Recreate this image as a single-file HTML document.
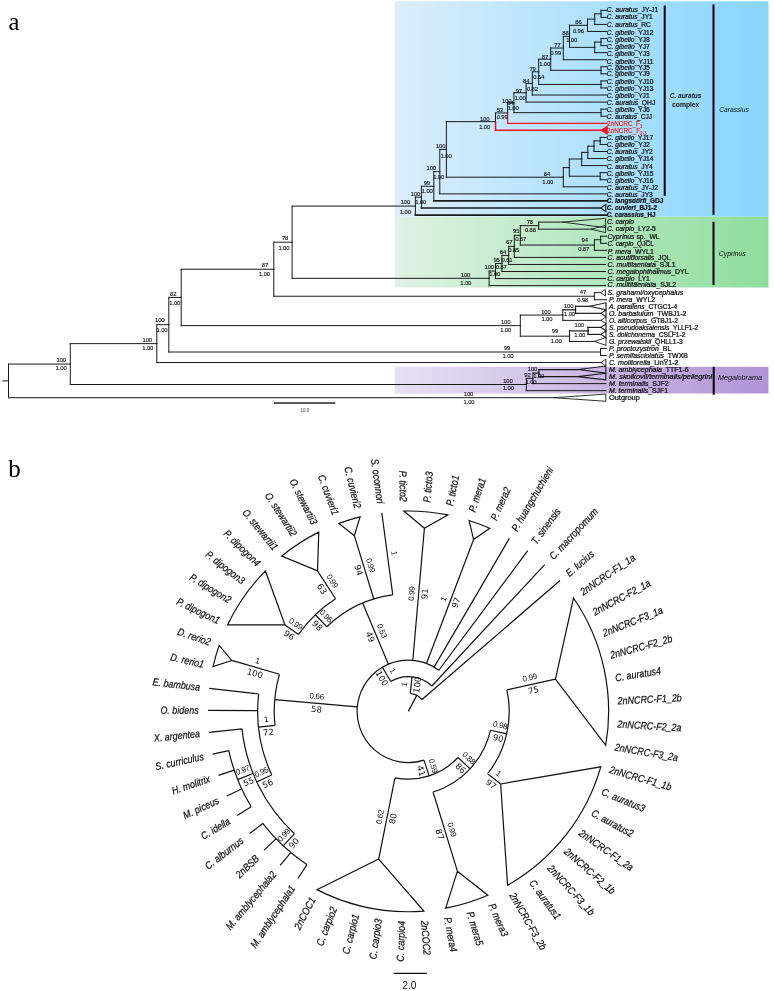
<!DOCTYPE html>
<html lang="en">
<head>
<meta charset="utf-8">
<title>Phylogenetic trees</title>
<style>
html,body{margin:0;padding:0;background:#fff;}
body{width:774px;height:991px;overflow:hidden;}
svg{display:block;}
text{white-space:pre;}
</style>
</head>
<body>
<svg width="774" height="991" viewBox="0 0 774 991">
<defs>
<linearGradient id="gB" x1="0" y1="0" x2="1" y2="0"><stop offset="0" stop-color="#dceefc"/><stop offset="1" stop-color="#87d5fd"/></linearGradient>
<linearGradient id="gG" x1="0" y1="0" x2="1" y2="0"><stop offset="0" stop-color="#dff3e4"/><stop offset="1" stop-color="#8fdd9e"/></linearGradient>
<linearGradient id="gP" x1="0" y1="0" x2="1" y2="0"><stop offset="0" stop-color="#e9e0f4"/><stop offset="1" stop-color="#b094d6"/></linearGradient>
</defs>
<rect x="0" y="0" width="774" height="991" fill="#fff"/>
<text x="8.5" y="30.1" font-family="'Liberation Serif', 'Times New Roman', serif" font-size="24.5" fill="#000">a</text>
<text x="8.2" y="476.8" font-family="'Liberation Serif', 'Times New Roman', serif" font-size="25" fill="#000">b</text>
<g id="panel-a">
<rect x="394.7" y="1.3" width="373.8" height="215.4" fill="url(#gB)"/>
<rect x="394.7" y="216.7" width="373.8" height="70.8" fill="url(#gG)"/>
<rect x="394.7" y="366.8" width="373.8" height="26.7" fill="url(#gP)"/>
<g stroke-linecap="square" fill="none">
<line x1="601" y1="10.3" x2="606.6" y2="10.3" stroke="#1a1a1a" stroke-width="1"/>
<line x1="601" y1="17.36" x2="606.6" y2="17.36" stroke="#1a1a1a" stroke-width="1"/>
<line x1="601" y1="13.83" x2="601" y2="10.3" stroke="#1a1a1a" stroke-width="1"/>
<line x1="601" y1="13.83" x2="601" y2="17.36" stroke="#1a1a1a" stroke-width="1"/>
<line x1="594.7" y1="13.83" x2="601" y2="13.83" stroke="#1a1a1a" stroke-width="1"/>
<line x1="594.7" y1="24.42" x2="606.6" y2="24.42" stroke="#1a1a1a" stroke-width="1"/>
<line x1="594.7" y1="19.12" x2="594.7" y2="13.83" stroke="#1a1a1a" stroke-width="1"/>
<line x1="594.7" y1="19.12" x2="594.7" y2="24.42" stroke="#1a1a1a" stroke-width="1"/>
<line x1="587.5" y1="19.12" x2="594.7" y2="19.12" stroke="#1a1a1a" stroke-width="1"/>
<line x1="587.5" y1="31.48" x2="606.6" y2="31.48" stroke="#1a1a1a" stroke-width="1"/>
<line x1="587.5" y1="25.3" x2="587.5" y2="19.12" stroke="#1a1a1a" stroke-width="1"/>
<line x1="587.5" y1="25.3" x2="587.5" y2="31.48" stroke="#1a1a1a" stroke-width="1"/>
<line x1="569.5" y1="25.3" x2="587.5" y2="25.3" stroke="#1a1a1a" stroke-width="1"/>
<line x1="601" y1="38.54" x2="606.6" y2="38.54" stroke="#1a1a1a" stroke-width="1"/>
<line x1="601" y1="45.6" x2="606.6" y2="45.6" stroke="#1a1a1a" stroke-width="1"/>
<line x1="601" y1="42.07" x2="601" y2="38.54" stroke="#1a1a1a" stroke-width="1"/>
<line x1="601" y1="42.07" x2="601" y2="45.6" stroke="#1a1a1a" stroke-width="1"/>
<line x1="594.7" y1="42.07" x2="601" y2="42.07" stroke="#1a1a1a" stroke-width="1"/>
<line x1="594.7" y1="52.66" x2="606.6" y2="52.66" stroke="#1a1a1a" stroke-width="1"/>
<line x1="594.7" y1="47.36" x2="594.7" y2="42.07" stroke="#1a1a1a" stroke-width="1"/>
<line x1="594.7" y1="47.36" x2="594.7" y2="52.66" stroke="#1a1a1a" stroke-width="1"/>
<line x1="569.5" y1="47.36" x2="594.7" y2="47.36" stroke="#1a1a1a" stroke-width="1"/>
<line x1="569.5" y1="36.33" x2="569.5" y2="25.3" stroke="#1a1a1a" stroke-width="1"/>
<line x1="569.5" y1="36.33" x2="569.5" y2="47.36" stroke="#1a1a1a" stroke-width="1"/>
<line x1="563.3" y1="36.33" x2="569.5" y2="36.33" stroke="#1a1a1a" stroke-width="1"/>
<line x1="563.3" y1="59.72" x2="606.6" y2="59.72" stroke="#1a1a1a" stroke-width="1"/>
<line x1="563.3" y1="48.03" x2="563.3" y2="36.33" stroke="#1a1a1a" stroke-width="1"/>
<line x1="563.3" y1="48.03" x2="563.3" y2="59.72" stroke="#1a1a1a" stroke-width="1"/>
<line x1="550.7" y1="48.03" x2="563.3" y2="48.03" stroke="#1a1a1a" stroke-width="1"/>
<line x1="601" y1="66.78" x2="606.6" y2="66.78" stroke="#1a1a1a" stroke-width="1"/>
<line x1="601" y1="73.84" x2="606.6" y2="73.84" stroke="#1a1a1a" stroke-width="1"/>
<line x1="601" y1="70.31" x2="601" y2="66.78" stroke="#1a1a1a" stroke-width="1"/>
<line x1="601" y1="70.31" x2="601" y2="73.84" stroke="#1a1a1a" stroke-width="1"/>
<line x1="550.7" y1="70.31" x2="601" y2="70.31" stroke="#1a1a1a" stroke-width="1"/>
<line x1="550.7" y1="59.17" x2="550.7" y2="48.03" stroke="#1a1a1a" stroke-width="1"/>
<line x1="550.7" y1="59.17" x2="550.7" y2="70.31" stroke="#1a1a1a" stroke-width="1"/>
<line x1="538.7" y1="59.17" x2="550.7" y2="59.17" stroke="#1a1a1a" stroke-width="1"/>
<line x1="601" y1="80.9" x2="606.6" y2="80.9" stroke="#1a1a1a" stroke-width="1"/>
<line x1="601" y1="87.96" x2="606.6" y2="87.96" stroke="#1a1a1a" stroke-width="1"/>
<line x1="601" y1="84.43" x2="601" y2="80.9" stroke="#1a1a1a" stroke-width="1"/>
<line x1="601" y1="84.43" x2="601" y2="87.96" stroke="#1a1a1a" stroke-width="1"/>
<line x1="538.7" y1="84.43" x2="601" y2="84.43" stroke="#1a1a1a" stroke-width="1"/>
<line x1="538.7" y1="71.8" x2="538.7" y2="59.17" stroke="#1a1a1a" stroke-width="1"/>
<line x1="538.7" y1="71.8" x2="538.7" y2="84.43" stroke="#1a1a1a" stroke-width="1"/>
<line x1="532.3" y1="71.8" x2="538.7" y2="71.8" stroke="#1a1a1a" stroke-width="1"/>
<line x1="532.3" y1="95.02" x2="606.6" y2="95.02" stroke="#1a1a1a" stroke-width="1"/>
<line x1="532.3" y1="83.41" x2="532.3" y2="71.8" stroke="#1a1a1a" stroke-width="1"/>
<line x1="532.3" y1="83.41" x2="532.3" y2="95.02" stroke="#1a1a1a" stroke-width="1"/>
<line x1="526.1" y1="83.41" x2="532.3" y2="83.41" stroke="#1a1a1a" stroke-width="1"/>
<line x1="526.1" y1="102.08" x2="606.6" y2="102.08" stroke="#1a1a1a" stroke-width="1"/>
<line x1="526.1" y1="92.74" x2="526.1" y2="83.41" stroke="#1a1a1a" stroke-width="1"/>
<line x1="526.1" y1="92.74" x2="526.1" y2="102.08" stroke="#1a1a1a" stroke-width="1"/>
<line x1="513.9" y1="92.74" x2="526.1" y2="92.74" stroke="#1a1a1a" stroke-width="1"/>
<line x1="601" y1="109.14" x2="606.6" y2="109.14" stroke="#1a1a1a" stroke-width="1"/>
<line x1="601" y1="116.2" x2="606.6" y2="116.2" stroke="#1a1a1a" stroke-width="1"/>
<line x1="601" y1="112.67" x2="601" y2="109.14" stroke="#1a1a1a" stroke-width="1"/>
<line x1="601" y1="112.67" x2="601" y2="116.2" stroke="#1a1a1a" stroke-width="1"/>
<line x1="513.9" y1="112.67" x2="601" y2="112.67" stroke="#1a1a1a" stroke-width="1"/>
<line x1="513.9" y1="102.71" x2="513.9" y2="92.74" stroke="#1a1a1a" stroke-width="1"/>
<line x1="513.9" y1="102.71" x2="513.9" y2="112.67" stroke="#1a1a1a" stroke-width="1"/>
<line x1="507.6" y1="102.71" x2="513.9" y2="102.71" stroke="#1a1a1a" stroke-width="1"/>
<line x1="507.6" y1="123.26" x2="606.6" y2="123.26" stroke="#f5151c" stroke-width="1.25"/>
<line x1="507.6" y1="112.98" x2="507.6" y2="102.71" stroke="#1a1a1a" stroke-width="1"/>
<line x1="507.6" y1="112.98" x2="507.6" y2="123.26" stroke="#f5151c" stroke-width="1.25"/>
<line x1="495.5" y1="112.98" x2="507.6" y2="112.98" stroke="#1a1a1a" stroke-width="1"/>
<line x1="495.5" y1="130.32" x2="601" y2="130.32" stroke="#f5151c" stroke-width="1.5"/>
<line x1="495.5" y1="121.65" x2="495.5" y2="112.98" stroke="#1a1a1a" stroke-width="1"/>
<line x1="495.5" y1="121.65" x2="495.5" y2="130.32" stroke="#f5151c" stroke-width="1.5"/>
<line x1="446.4" y1="121.65" x2="495.5" y2="121.65" stroke="#1a1a1a" stroke-width="1"/>
<line x1="600.2" y1="137.38" x2="606.6" y2="137.38" stroke="#1a1a1a" stroke-width="1"/>
<line x1="600.2" y1="144.44" x2="606.6" y2="144.44" stroke="#1a1a1a" stroke-width="1"/>
<line x1="600.2" y1="140.91" x2="600.2" y2="137.38" stroke="#1a1a1a" stroke-width="1"/>
<line x1="600.2" y1="140.91" x2="600.2" y2="144.44" stroke="#1a1a1a" stroke-width="1"/>
<line x1="594" y1="140.91" x2="600.2" y2="140.91" stroke="#1a1a1a" stroke-width="1"/>
<line x1="594" y1="151.5" x2="606.6" y2="151.5" stroke="#1a1a1a" stroke-width="1"/>
<line x1="594" y1="146.2" x2="594" y2="140.91" stroke="#1a1a1a" stroke-width="1"/>
<line x1="594" y1="146.2" x2="594" y2="151.5" stroke="#1a1a1a" stroke-width="1"/>
<line x1="587.8" y1="146.2" x2="594" y2="146.2" stroke="#1a1a1a" stroke-width="1"/>
<line x1="587.8" y1="158.56" x2="606.6" y2="158.56" stroke="#1a1a1a" stroke-width="1"/>
<line x1="587.8" y1="152.38" x2="587.8" y2="146.2" stroke="#1a1a1a" stroke-width="1"/>
<line x1="587.8" y1="152.38" x2="587.8" y2="158.56" stroke="#1a1a1a" stroke-width="1"/>
<line x1="581.7" y1="152.38" x2="587.8" y2="152.38" stroke="#1a1a1a" stroke-width="1"/>
<line x1="581.7" y1="165.62" x2="606.6" y2="165.62" stroke="#1a1a1a" stroke-width="1"/>
<line x1="581.7" y1="159" x2="581.7" y2="152.38" stroke="#1a1a1a" stroke-width="1"/>
<line x1="581.7" y1="159" x2="581.7" y2="165.62" stroke="#1a1a1a" stroke-width="1"/>
<line x1="569.3" y1="159" x2="581.7" y2="159" stroke="#1a1a1a" stroke-width="1"/>
<line x1="600.2" y1="172.68" x2="606.6" y2="172.68" stroke="#1a1a1a" stroke-width="1"/>
<line x1="600.2" y1="179.74" x2="606.6" y2="179.74" stroke="#1a1a1a" stroke-width="1"/>
<line x1="600.2" y1="176.21" x2="600.2" y2="172.68" stroke="#1a1a1a" stroke-width="1"/>
<line x1="600.2" y1="176.21" x2="600.2" y2="179.74" stroke="#1a1a1a" stroke-width="1"/>
<line x1="569.3" y1="176.21" x2="600.2" y2="176.21" stroke="#1a1a1a" stroke-width="1"/>
<line x1="569.3" y1="167.61" x2="569.3" y2="159" stroke="#1a1a1a" stroke-width="1"/>
<line x1="569.3" y1="167.61" x2="569.3" y2="176.21" stroke="#1a1a1a" stroke-width="1"/>
<line x1="563.3" y1="167.61" x2="569.3" y2="167.61" stroke="#1a1a1a" stroke-width="1"/>
<line x1="563.3" y1="186.8" x2="606.6" y2="186.8" stroke="#1a1a1a" stroke-width="1"/>
<line x1="563.3" y1="177.2" x2="563.3" y2="167.61" stroke="#1a1a1a" stroke-width="1"/>
<line x1="563.3" y1="177.2" x2="563.3" y2="186.8" stroke="#1a1a1a" stroke-width="1"/>
<line x1="446.4" y1="177.2" x2="563.3" y2="177.2" stroke="#1a1a1a" stroke-width="1"/>
<line x1="446.4" y1="149.43" x2="446.4" y2="121.65" stroke="#1a1a1a" stroke-width="1"/>
<line x1="446.4" y1="149.43" x2="446.4" y2="177.2" stroke="#1a1a1a" stroke-width="1"/>
<line x1="439.8" y1="149.43" x2="446.4" y2="149.43" stroke="#1a1a1a" stroke-width="1"/>
<line x1="439.8" y1="193.86" x2="606.6" y2="193.86" stroke="#1a1a1a" stroke-width="1"/>
<line x1="439.8" y1="171.64" x2="439.8" y2="149.43" stroke="#1a1a1a" stroke-width="1"/>
<line x1="439.8" y1="171.64" x2="439.8" y2="193.86" stroke="#1a1a1a" stroke-width="1"/>
<line x1="433.8" y1="171.64" x2="439.8" y2="171.64" stroke="#1a1a1a" stroke-width="1"/>
<line x1="433.8" y1="200.92" x2="606.6" y2="200.92" stroke="#1a1a1a" stroke-width="1.6"/>
<line x1="433.8" y1="186.28" x2="433.8" y2="171.64" stroke="#1a1a1a" stroke-width="1"/>
<line x1="433.8" y1="186.28" x2="433.8" y2="200.92" stroke="#1a1a1a" stroke-width="1"/>
<line x1="421.4" y1="186.28" x2="433.8" y2="186.28" stroke="#1a1a1a" stroke-width="1"/>
<line x1="421.4" y1="207.98" x2="600.8" y2="207.98" stroke="#1a1a1a" stroke-width="1.6"/>
<line x1="421.4" y1="197.13" x2="421.4" y2="186.28" stroke="#1a1a1a" stroke-width="1"/>
<line x1="421.4" y1="197.13" x2="421.4" y2="207.98" stroke="#1a1a1a" stroke-width="1"/>
<line x1="415.4" y1="197.13" x2="421.4" y2="197.13" stroke="#1a1a1a" stroke-width="1"/>
<line x1="415.4" y1="215.04" x2="606.6" y2="215.04" stroke="#1a1a1a" stroke-width="1.7"/>
<line x1="415.4" y1="206.09" x2="415.4" y2="197.13" stroke="#1a1a1a" stroke-width="1"/>
<line x1="415.4" y1="206.09" x2="415.4" y2="215.04" stroke="#1a1a1a" stroke-width="1"/>
<line x1="292.1" y1="206.09" x2="415.4" y2="206.09" stroke="#1a1a1a" stroke-width="1"/>
<line x1="538.7" y1="222.1" x2="562.4" y2="222.1" stroke="#1a1a1a" stroke-width="1"/>
<line x1="538.7" y1="229.16" x2="590.9" y2="229.16" stroke="#1a1a1a" stroke-width="1"/>
<line x1="538.7" y1="225.63" x2="538.7" y2="222.1" stroke="#1a1a1a" stroke-width="1"/>
<line x1="538.7" y1="225.63" x2="538.7" y2="229.16" stroke="#1a1a1a" stroke-width="1"/>
<line x1="520.3" y1="225.63" x2="538.7" y2="225.63" stroke="#1a1a1a" stroke-width="1"/>
<line x1="600.7" y1="236.22" x2="606.6" y2="236.22" stroke="#1a1a1a" stroke-width="1"/>
<line x1="600.7" y1="243.28" x2="606.6" y2="243.28" stroke="#1a1a1a" stroke-width="1"/>
<line x1="600.7" y1="239.75" x2="600.7" y2="236.22" stroke="#1a1a1a" stroke-width="1"/>
<line x1="600.7" y1="239.75" x2="600.7" y2="243.28" stroke="#1a1a1a" stroke-width="1"/>
<line x1="594.4" y1="239.75" x2="600.7" y2="239.75" stroke="#1a1a1a" stroke-width="1"/>
<line x1="594.4" y1="250.34" x2="606.6" y2="250.34" stroke="#1a1a1a" stroke-width="1"/>
<line x1="594.4" y1="245.05" x2="594.4" y2="239.75" stroke="#1a1a1a" stroke-width="1"/>
<line x1="594.4" y1="245.05" x2="594.4" y2="250.34" stroke="#1a1a1a" stroke-width="1"/>
<line x1="520.3" y1="245.05" x2="594.4" y2="245.05" stroke="#1a1a1a" stroke-width="1"/>
<line x1="520.3" y1="235.34" x2="520.3" y2="225.63" stroke="#1a1a1a" stroke-width="1"/>
<line x1="520.3" y1="235.34" x2="520.3" y2="245.05" stroke="#1a1a1a" stroke-width="1"/>
<line x1="514.3" y1="235.34" x2="520.3" y2="235.34" stroke="#1a1a1a" stroke-width="1"/>
<line x1="514.3" y1="257.4" x2="605.6" y2="257.4" stroke="#1a1a1a" stroke-width="1"/>
<line x1="514.3" y1="246.37" x2="514.3" y2="235.34" stroke="#1a1a1a" stroke-width="1"/>
<line x1="514.3" y1="246.37" x2="514.3" y2="257.4" stroke="#1a1a1a" stroke-width="1"/>
<line x1="508.7" y1="246.37" x2="514.3" y2="246.37" stroke="#1a1a1a" stroke-width="1"/>
<line x1="508.7" y1="264.46" x2="605.6" y2="264.46" stroke="#1a1a1a" stroke-width="1"/>
<line x1="508.7" y1="255.41" x2="508.7" y2="246.37" stroke="#1a1a1a" stroke-width="1"/>
<line x1="508.7" y1="255.41" x2="508.7" y2="264.46" stroke="#1a1a1a" stroke-width="1"/>
<line x1="501.9" y1="255.41" x2="508.7" y2="255.41" stroke="#1a1a1a" stroke-width="1"/>
<line x1="501.9" y1="271.52" x2="605.6" y2="271.52" stroke="#1a1a1a" stroke-width="1"/>
<line x1="501.9" y1="263.47" x2="501.9" y2="255.41" stroke="#1a1a1a" stroke-width="1"/>
<line x1="501.9" y1="263.47" x2="501.9" y2="271.52" stroke="#1a1a1a" stroke-width="1"/>
<line x1="495.5" y1="263.47" x2="501.9" y2="263.47" stroke="#1a1a1a" stroke-width="1"/>
<line x1="495.5" y1="278.58" x2="605.6" y2="278.58" stroke="#1a1a1a" stroke-width="1"/>
<line x1="495.5" y1="271.02" x2="495.5" y2="263.47" stroke="#1a1a1a" stroke-width="1"/>
<line x1="495.5" y1="271.02" x2="495.5" y2="278.58" stroke="#1a1a1a" stroke-width="1"/>
<line x1="489.1" y1="271.02" x2="495.5" y2="271.02" stroke="#1a1a1a" stroke-width="1"/>
<line x1="489.1" y1="285.64" x2="605.6" y2="285.64" stroke="#1a1a1a" stroke-width="1"/>
<line x1="489.1" y1="278.33" x2="489.1" y2="271.02" stroke="#1a1a1a" stroke-width="1"/>
<line x1="489.1" y1="278.33" x2="489.1" y2="285.64" stroke="#1a1a1a" stroke-width="1"/>
<line x1="292.1" y1="278.33" x2="489.1" y2="278.33" stroke="#1a1a1a" stroke-width="1"/>
<line x1="292.1" y1="242.21" x2="292.1" y2="206.09" stroke="#1a1a1a" stroke-width="1"/>
<line x1="292.1" y1="242.21" x2="292.1" y2="278.33" stroke="#1a1a1a" stroke-width="1"/>
<line x1="273.8" y1="242.21" x2="292.1" y2="242.21" stroke="#1a1a1a" stroke-width="1"/>
<line x1="594.4" y1="292.7" x2="600.7" y2="292.7" stroke="#1a1a1a" stroke-width="1"/>
<line x1="594.4" y1="299.76" x2="606.5" y2="299.76" stroke="#1a1a1a" stroke-width="1"/>
<line x1="594.4" y1="296.23" x2="594.4" y2="292.7" stroke="#1a1a1a" stroke-width="1"/>
<line x1="594.4" y1="296.23" x2="594.4" y2="299.76" stroke="#1a1a1a" stroke-width="1"/>
<line x1="273.8" y1="296.23" x2="594.4" y2="296.23" stroke="#1a1a1a" stroke-width="1"/>
<line x1="273.8" y1="269.22" x2="273.8" y2="242.21" stroke="#1a1a1a" stroke-width="1"/>
<line x1="273.8" y1="269.22" x2="273.8" y2="296.23" stroke="#1a1a1a" stroke-width="1"/>
<line x1="181.2" y1="269.22" x2="273.8" y2="269.22" stroke="#1a1a1a" stroke-width="1"/>
<line x1="575.5" y1="306.3" x2="589.5" y2="306.3" stroke="#1a1a1a" stroke-width="1.2"/>
<line x1="575.5" y1="313.33" x2="600.9" y2="313.33" stroke="#1a1a1a" stroke-width="1.2"/>
<line x1="575.5" y1="309.81" x2="575.5" y2="306.3" stroke="#1a1a1a" stroke-width="1.2"/>
<line x1="575.5" y1="309.81" x2="575.5" y2="313.33" stroke="#1a1a1a" stroke-width="1.2"/>
<line x1="562.8" y1="309.81" x2="575.5" y2="309.81" stroke="#1a1a1a" stroke-width="1.2"/>
<line x1="562.8" y1="320.36" x2="600.9" y2="320.36" stroke="#1a1a1a" stroke-width="1"/>
<line x1="562.8" y1="315.09" x2="562.8" y2="309.81" stroke="#1a1a1a" stroke-width="1"/>
<line x1="562.8" y1="315.09" x2="562.8" y2="320.36" stroke="#1a1a1a" stroke-width="1"/>
<line x1="520.3" y1="315.09" x2="562.8" y2="315.09" stroke="#1a1a1a" stroke-width="1"/>
<line x1="588" y1="327.39" x2="600.9" y2="327.39" stroke="#1a1a1a" stroke-width="1.2"/>
<line x1="588" y1="334.42" x2="600.9" y2="334.42" stroke="#1a1a1a" stroke-width="1.2"/>
<line x1="588" y1="330.9" x2="588" y2="327.39" stroke="#1a1a1a" stroke-width="1.2"/>
<line x1="588" y1="330.9" x2="588" y2="334.42" stroke="#1a1a1a" stroke-width="1.2"/>
<line x1="569.5" y1="330.9" x2="588" y2="330.9" stroke="#1a1a1a" stroke-width="1.2"/>
<line x1="569.5" y1="341.45" x2="594.3" y2="341.45" stroke="#1a1a1a" stroke-width="1"/>
<line x1="569.5" y1="336.18" x2="569.5" y2="330.9" stroke="#1a1a1a" stroke-width="1"/>
<line x1="569.5" y1="336.18" x2="569.5" y2="341.45" stroke="#1a1a1a" stroke-width="1"/>
<line x1="520.3" y1="336.18" x2="569.5" y2="336.18" stroke="#1a1a1a" stroke-width="1"/>
<line x1="520.3" y1="325.63" x2="520.3" y2="315.09" stroke="#1a1a1a" stroke-width="1"/>
<line x1="520.3" y1="325.63" x2="520.3" y2="336.18" stroke="#1a1a1a" stroke-width="1"/>
<line x1="181.2" y1="325.63" x2="520.3" y2="325.63" stroke="#1a1a1a" stroke-width="1"/>
<line x1="181.2" y1="297.43" x2="181.2" y2="269.22" stroke="#1a1a1a" stroke-width="1"/>
<line x1="181.2" y1="297.43" x2="181.2" y2="325.63" stroke="#1a1a1a" stroke-width="1"/>
<line x1="168.8" y1="297.43" x2="181.2" y2="297.43" stroke="#1a1a1a" stroke-width="1"/>
<line x1="600.5" y1="348.48" x2="606.2" y2="348.48" stroke="#1a1a1a" stroke-width="1"/>
<line x1="600.5" y1="355.51" x2="606.2" y2="355.51" stroke="#1a1a1a" stroke-width="1"/>
<line x1="600.5" y1="352" x2="600.5" y2="348.48" stroke="#1a1a1a" stroke-width="1"/>
<line x1="600.5" y1="352" x2="600.5" y2="355.51" stroke="#1a1a1a" stroke-width="1"/>
<line x1="168.8" y1="352" x2="600.5" y2="352" stroke="#1a1a1a" stroke-width="1"/>
<line x1="168.8" y1="324.71" x2="168.8" y2="297.43" stroke="#1a1a1a" stroke-width="1"/>
<line x1="168.8" y1="324.71" x2="168.8" y2="352" stroke="#1a1a1a" stroke-width="1"/>
<line x1="156.8" y1="324.71" x2="168.8" y2="324.71" stroke="#1a1a1a" stroke-width="1"/>
<line x1="156.8" y1="362.54" x2="600.9" y2="362.54" stroke="#1a1a1a" stroke-width="1"/>
<line x1="156.8" y1="343.63" x2="156.8" y2="324.71" stroke="#1a1a1a" stroke-width="1"/>
<line x1="156.8" y1="343.63" x2="156.8" y2="362.54" stroke="#1a1a1a" stroke-width="1"/>
<line x1="70.3" y1="343.63" x2="156.8" y2="343.63" stroke="#1a1a1a" stroke-width="1"/>
<line x1="538.8" y1="369.57" x2="578.5" y2="369.57" stroke="#1a1a1a" stroke-width="1.2"/>
<line x1="538.8" y1="376.6" x2="577.5" y2="376.6" stroke="#1a1a1a" stroke-width="1.2"/>
<line x1="538.8" y1="373.09" x2="538.8" y2="369.57" stroke="#1a1a1a" stroke-width="1.2"/>
<line x1="538.8" y1="373.09" x2="538.8" y2="376.6" stroke="#1a1a1a" stroke-width="1.2"/>
<line x1="532.9" y1="373.09" x2="538.8" y2="373.09" stroke="#1a1a1a" stroke-width="1.2"/>
<line x1="532.9" y1="383.63" x2="605.8" y2="383.63" stroke="#1a1a1a" stroke-width="1"/>
<line x1="532.9" y1="378.36" x2="532.9" y2="373.09" stroke="#1a1a1a" stroke-width="1"/>
<line x1="532.9" y1="378.36" x2="532.9" y2="383.63" stroke="#1a1a1a" stroke-width="1"/>
<line x1="526.3" y1="378.36" x2="532.9" y2="378.36" stroke="#1a1a1a" stroke-width="1"/>
<line x1="526.3" y1="390.66" x2="605.8" y2="390.66" stroke="#1a1a1a" stroke-width="1"/>
<line x1="526.3" y1="384.51" x2="526.3" y2="378.36" stroke="#1a1a1a" stroke-width="1"/>
<line x1="526.3" y1="384.51" x2="526.3" y2="390.66" stroke="#1a1a1a" stroke-width="1"/>
<line x1="70.3" y1="384.51" x2="526.3" y2="384.51" stroke="#1a1a1a" stroke-width="1"/>
<line x1="70.3" y1="364.07" x2="70.3" y2="343.63" stroke="#1a1a1a" stroke-width="1"/>
<line x1="70.3" y1="364.07" x2="70.3" y2="384.51" stroke="#1a1a1a" stroke-width="1"/>
<line x1="8.5" y1="364.07" x2="70.3" y2="364.07" stroke="#1a1a1a" stroke-width="1"/>
<line x1="8.5" y1="397.69" x2="554.3" y2="397.69" stroke="#1a1a1a" stroke-width="1"/>
<line x1="8.5" y1="380.88" x2="8.5" y2="364.07" stroke="#1a1a1a" stroke-width="1"/>
<line x1="8.5" y1="380.88" x2="8.5" y2="397.69" stroke="#1a1a1a" stroke-width="1"/>
<line x1="2.8" y1="380.88" x2="8.5" y2="380.88" stroke="#1a1a1a" stroke-width="1"/>
</g>
<polygon points="601,130.32 607.2,126.52 607.2,134.12" fill="#f5151c" stroke="#f5151c" stroke-width="1.1" stroke-linejoin="miter"/>
<polygon points="600.8,207.98 605.8,204.28 605.8,211.68" fill="none" stroke="#1a1a1a" stroke-width="1.1" stroke-linejoin="miter"/>
<polygon points="562.4,222.1 605.6,218.3 605.6,227.6" fill="none" stroke="#1a1a1a" stroke-width="0.9" stroke-linejoin="miter"/>
<polygon points="590.9,229.16 605.6,225.4 605.6,232.6" fill="none" stroke="#1a1a1a" stroke-width="0.9" stroke-linejoin="miter"/>
<polygon points="600.7,292.7 605.4,289.4 605.4,296" fill="none" stroke="#1a1a1a" stroke-width="0.9" stroke-linejoin="miter"/>
<polygon points="589.5,306.3 606,302.8 606,309.8" fill="none" stroke="#1a1a1a" stroke-width="1.08" stroke-linejoin="miter"/>
<polygon points="600.9,313.33 606,309.93 606,316.73" fill="none" stroke="#1a1a1a" stroke-width="1.08" stroke-linejoin="miter"/>
<polygon points="600.9,320.36 606,316.96 606,323.76" fill="none" stroke="#1a1a1a" stroke-width="0.9" stroke-linejoin="miter"/>
<polygon points="600.9,327.39 606,323.99 606,330.79" fill="none" stroke="#1a1a1a" stroke-width="1.08" stroke-linejoin="miter"/>
<polygon points="600.9,334.42 606,331.02 606,337.82" fill="none" stroke="#1a1a1a" stroke-width="1.08" stroke-linejoin="miter"/>
<polygon points="594.3,341.45 606,337.55 606,345.35" fill="none" stroke="#1a1a1a" stroke-width="0.9" stroke-linejoin="miter"/>
<polygon points="600.9,362.54 605.8,359.14 605.8,365.94" fill="none" stroke="#1a1a1a" stroke-width="0.9" stroke-linejoin="miter"/>
<polygon points="578.5,369.57 605.8,366.07 605.8,373.07" fill="none" stroke="#1a1a1a" stroke-width="1.08" stroke-linejoin="miter"/>
<polygon points="577.5,376.6 605.8,373.3 605.8,379.9" fill="none" stroke="#1a1a1a" stroke-width="1.08" stroke-linejoin="miter"/>
<polygon points="554.3,397.69 605.8,394.09 605.8,401.29" fill="none" stroke="#1a1a1a" stroke-width="0.9" stroke-linejoin="miter"/>
<g stroke="#000" stroke-width="2">
<line x1="664.7" y1="5.4" x2="664.7" y2="195.8"/>
<line x1="713.5" y1="4.4" x2="713.5" y2="214.8"/>
<line x1="713.5" y1="221.8" x2="713.5" y2="285.1"/>
<line x1="713.7" y1="366.8" x2="713.7" y2="394.8"/>
</g>
<g font-family="'Liberation Sans', Arial, sans-serif" fill="#111">
<text x="669.8" y="97.8" font-size="7" font-weight="bold" font-style="italic" textLength="31.6" lengthAdjust="spacingAndGlyphs">C. auratus</text>
<text x="672.1" y="107.2" font-size="7" font-weight="bold" textLength="27.2" lengthAdjust="spacingAndGlyphs">complex</text>
<text x="719.3" y="111.7" font-size="7" font-style="italic" textLength="29.4" lengthAdjust="spacingAndGlyphs">Carassius</text>
<text x="718.8" y="255.6" font-size="7" font-style="italic" textLength="26.9" lengthAdjust="spacingAndGlyphs">Cyprinus</text>
<text x="717.9" y="380.1" font-size="7.3" font-style="italic" textLength="44.1" lengthAdjust="spacingAndGlyphs">Megalobrama</text>
</g>
<g font-family="'Liberation Sans', Arial, sans-serif" font-size="6.6" fill="#111" stroke="#111" stroke-width="0.24">
<text x="606.8" y="11.9" textLength="51.4" lengthAdjust="spacingAndGlyphs"><tspan font-style="italic">C. auratus</tspan><tspan>_JY-J1</tspan></text>
<text x="606.8" y="19.46" textLength="46" lengthAdjust="spacingAndGlyphs"><tspan font-style="italic">C. auratus</tspan><tspan>_JY1</tspan></text>
<text x="606.8" y="27.22" textLength="44.1" lengthAdjust="spacingAndGlyphs"><tspan font-style="italic">C. auratus</tspan><tspan>_RC</tspan></text>
<text x="606.8" y="35.48" textLength="46.6" lengthAdjust="spacingAndGlyphs"><tspan font-style="italic">C. gibelio</tspan><tspan>_YJ12</tspan></text>
<text x="606.8" y="42.44" textLength="42.8" lengthAdjust="spacingAndGlyphs"><tspan font-style="italic">C. gibelio</tspan><tspan>_YJ8</tspan></text>
<text x="606.8" y="49.4" textLength="43" lengthAdjust="spacingAndGlyphs"><tspan font-style="italic">C. gibelio</tspan><tspan>_YJ7</tspan></text>
<text x="606.8" y="56.16" textLength="43" lengthAdjust="spacingAndGlyphs"><tspan font-style="italic">C. gibelio</tspan><tspan>_YJ3</tspan></text>
<text x="606.8" y="63.62" textLength="46.6" lengthAdjust="spacingAndGlyphs"><tspan font-style="italic">C. gibelio</tspan><tspan>_YJ11</tspan></text>
<text x="606.8" y="70.38" textLength="43" lengthAdjust="spacingAndGlyphs"><tspan font-style="italic">C. gibelio</tspan><tspan>_YJ5</tspan></text>
<text x="606.8" y="76.24" textLength="43" lengthAdjust="spacingAndGlyphs"><tspan font-style="italic">C. gibelio</tspan><tspan>_YJ9</tspan></text>
<text x="606.8" y="83.8" textLength="46.6" lengthAdjust="spacingAndGlyphs"><tspan font-style="italic">C. gibelio</tspan><tspan>_YJ10</tspan></text>
<text x="606.8" y="90.76" textLength="46.6" lengthAdjust="spacingAndGlyphs"><tspan font-style="italic">C. gibelio</tspan><tspan>_YJ13</tspan></text>
<text x="606.8" y="97.72" textLength="42.8" lengthAdjust="spacingAndGlyphs"><tspan font-style="italic">C. gibelio</tspan><tspan>_YJ1</tspan></text>
<text x="606.8" y="104.98" textLength="48.6" lengthAdjust="spacingAndGlyphs"><tspan font-style="italic">C. auratus</tspan><tspan>_QHJ</tspan></text>
<text x="606.8" y="112.04" textLength="43" lengthAdjust="spacingAndGlyphs"><tspan font-style="italic">C. gibelio</tspan><tspan>_YJ6</tspan></text>
<text x="606.8" y="119.1" textLength="45.2" lengthAdjust="spacingAndGlyphs"><tspan font-style="italic">C. auratus</tspan><tspan>_CJJ</tspan></text>
<text x="606.8" y="140.28" textLength="46.4" lengthAdjust="spacingAndGlyphs"><tspan font-style="italic">C. gibelio</tspan><tspan>_YJ17</tspan></text>
<text x="606.8" y="147.34" textLength="43" lengthAdjust="spacingAndGlyphs"><tspan font-style="italic">C. gibelio</tspan><tspan>_YJ2</tspan></text>
<text x="606.8" y="154.4" textLength="46" lengthAdjust="spacingAndGlyphs"><tspan font-style="italic">C. auratus</tspan><tspan>_JY2</tspan></text>
<text x="606.8" y="161.46" textLength="46.6" lengthAdjust="spacingAndGlyphs"><tspan font-style="italic">C. gibelio</tspan><tspan>_YJ14</tspan></text>
<text x="606.8" y="168.52" textLength="46" lengthAdjust="spacingAndGlyphs"><tspan font-style="italic">C. auratus</tspan><tspan>_JY4</tspan></text>
<text x="606.8" y="175.58" textLength="46.6" lengthAdjust="spacingAndGlyphs"><tspan font-style="italic">C. gibelio</tspan><tspan>_YJ15</tspan></text>
<text x="606.8" y="182.64" textLength="46.6" lengthAdjust="spacingAndGlyphs"><tspan font-style="italic">C. gibelio</tspan><tspan>_YJ16</tspan></text>
<text x="606.8" y="189.7" textLength="51.2" lengthAdjust="spacingAndGlyphs"><tspan font-style="italic">C. auratus</tspan><tspan>_JY-J2</tspan></text>
<text x="606.8" y="196.76" textLength="46" lengthAdjust="spacingAndGlyphs"><tspan font-style="italic">C. auratus</tspan><tspan>_JY3</tspan></text>
<text x="606.8" y="203.32" textLength="56.5" lengthAdjust="spacingAndGlyphs"><tspan font-style="italic" font-weight="bold">C. langsdorfi</tspan><tspan font-weight="bold">_GDJ</tspan></text>
<text x="606.8" y="210.08" textLength="50.2" lengthAdjust="spacingAndGlyphs"><tspan font-style="italic" font-weight="bold">C. cuvieri</tspan><tspan font-weight="bold">_BJ1-2</tspan></text>
<text x="606.8" y="216.74" textLength="48.8" lengthAdjust="spacingAndGlyphs"><tspan font-style="italic" font-weight="bold">C. carassius</tspan><tspan font-weight="bold">_HJ</tspan></text>
<text x="607" y="224.3" textLength="27" lengthAdjust="spacingAndGlyphs"><tspan font-style="italic">C. carpio</tspan></text>
<text x="607" y="231.26" textLength="48.8" lengthAdjust="spacingAndGlyphs"><tspan font-style="italic">C. carpio</tspan><tspan>_LY2-5</tspan></text>
<text x="607.4" y="239.42" textLength="52.3" lengthAdjust="spacingAndGlyphs"><tspan font-style="italic">Cyprinus</tspan><tspan> sp._WL</tspan></text>
<text x="607.4" y="246.28" textLength="46.4" lengthAdjust="spacingAndGlyphs"><tspan font-style="italic">C. carpio</tspan><tspan>_QJCL</tspan></text>
<text x="607.8" y="253.54" textLength="46" lengthAdjust="spacingAndGlyphs"><tspan font-style="italic">P. mera</tspan><tspan>_WYL1</tspan></text>
<text x="607.6" y="260.1" textLength="63" lengthAdjust="spacingAndGlyphs"><tspan font-style="italic">C. acutidorsalis</tspan><tspan>_JQL</tspan></text>
<text x="607.6" y="266.56" textLength="68" lengthAdjust="spacingAndGlyphs"><tspan font-style="italic">C. multitaeniata</tspan><tspan>_SJL1</tspan></text>
<text x="607.6" y="273.72" textLength="81" lengthAdjust="spacingAndGlyphs"><tspan font-style="italic">C. megalophthalmus</tspan><tspan>_DYL</tspan></text>
<text x="607.6" y="280.58" textLength="42.3" lengthAdjust="spacingAndGlyphs"><tspan font-style="italic">C. carpio</tspan><tspan>_LY1</tspan></text>
<text x="607.6" y="287.34" textLength="68.5" lengthAdjust="spacingAndGlyphs"><tspan font-style="italic">C. multitaeniata</tspan><tspan>_SJL2</tspan></text>
<text x="607.6" y="295" textLength="75.6" lengthAdjust="spacingAndGlyphs"><tspan font-style="italic">S. grahami/oxycephalus</tspan></text>
<text x="609" y="302.41" textLength="46.1" lengthAdjust="spacingAndGlyphs"><tspan font-style="italic">P. mera</tspan><tspan>_WYL2</tspan></text>
<text x="609" y="308.95" textLength="68.3" lengthAdjust="spacingAndGlyphs"><tspan font-style="italic">A. parallens</tspan><tspan>_CTGC1-4</tspan></text>
<text x="609" y="315.98" textLength="77.5" lengthAdjust="spacingAndGlyphs"><tspan font-style="italic">O. barbatulum</tspan><tspan>_TWBJ1-2</tspan></text>
<text x="609" y="323.01" textLength="69.1" lengthAdjust="spacingAndGlyphs"><tspan font-style="italic">O. alticorpus</tspan><tspan>_GTBJ1-2</tspan></text>
<text x="609" y="330.04" textLength="89.3" lengthAdjust="spacingAndGlyphs"><tspan font-style="italic">S. pseudoaksaiensis</tspan><tspan>_YLLF1-2</tspan></text>
<text x="609" y="337.07" textLength="76.4" lengthAdjust="spacingAndGlyphs"><tspan font-style="italic">S. dolichonema</tspan><tspan>_CSLF1-2</tspan></text>
<text x="609" y="344.1" textLength="73.7" lengthAdjust="spacingAndGlyphs"><tspan font-style="italic">G. przewalskii</tspan><tspan>_QHLL1-3</tspan></text>
<text x="609" y="351.13" textLength="62.4" lengthAdjust="spacingAndGlyphs"><tspan font-style="italic">P. proctozystron</tspan><tspan>_BL</tspan></text>
<text x="609" y="358.16" textLength="78.9" lengthAdjust="spacingAndGlyphs"><tspan font-style="italic">P. semifasciolatus</tspan><tspan>_TWXB</tspan></text>
<text x="609" y="365.19" textLength="69.5" lengthAdjust="spacingAndGlyphs"><tspan font-style="italic">C. molitorella</tspan><tspan>_LinY1-2</tspan></text>
<text x="609" y="372.22" textLength="79.7" lengthAdjust="spacingAndGlyphs"><tspan font-style="italic">M. amblycephala</tspan><tspan>_TTF1-6</tspan></text>
<text x="609" y="379.25" textLength="103.2" lengthAdjust="spacingAndGlyphs"><tspan font-style="italic">M. skolkovii/terminalis/pellegrini</tspan></text>
<text x="609" y="386.28" textLength="59.6" lengthAdjust="spacingAndGlyphs"><tspan font-style="italic">M. terminalis</tspan><tspan>_SJF2</tspan></text>
<text x="609" y="393.31" textLength="59.1" lengthAdjust="spacingAndGlyphs"><tspan font-style="italic">M. terminalis</tspan><tspan>_SJF1</tspan></text>
<text x="609" y="399.59" textLength="30.8" lengthAdjust="spacingAndGlyphs"><tspan>Outgroup</tspan></text>
<text x="607.1" y="126.26" fill="#f5151c" stroke="#f5151c" stroke-width="0.14" font-size="6.7" textLength="35.3" lengthAdjust="spacingAndGlyphs">2nNCRC_F<tspan font-size="4.6" dy="1.6">1</tspan></text>
<text x="607.1" y="133.32" fill="#f5151c" stroke="#f5151c" stroke-width="0.14" font-size="6.7" textLength="39.3" lengthAdjust="spacingAndGlyphs">2nNCRC_F<tspan font-size="4.6" dy="1.6">2-3</tspan></text>
</g>
<g font-family="'Liberation Sans', Arial, sans-serif" font-size="5.9" fill="#111" text-anchor="middle" letter-spacing="-0.15" stroke="#111" stroke-width="0.12">
<text x="578.4" y="24.15">86</text>
<text x="578.4" y="32.75">0.96</text>
<text x="565.4" y="34.75">88</text>
<text x="571.6" y="42.15">1.00</text>
<text x="557.4" y="47.35">77</text>
<text x="555.6" y="55.15">0.99</text>
<text x="545" y="58.95">87</text>
<text x="544.6" y="66.35">1.00</text>
<text x="532.6" y="71.35">79</text>
<text x="538.6" y="78.95">0.64</text>
<text x="526.2" y="82.75">84</text>
<text x="532.4" y="90.55">0.82</text>
<text x="518.8" y="92.75">97</text>
<text x="520.2" y="100.35">1.00</text>
<text x="506.6" y="102.55">100</text>
<text x="510.6" y="104.55">94</text>
<text x="513.2" y="109.95">1.00</text>
<text x="499.8" y="111.95">53</text>
<text x="502.2" y="119.35">0.99</text>
<text x="484.6" y="121.15">100</text>
<text x="484.6" y="128.75">1.00</text>
<text x="440.6" y="148.35">100</text>
<text x="446.2" y="157.65">1.00</text>
<text x="431.2" y="170.45">100</text>
<text x="438.7" y="178.75">1.00</text>
<text x="426.8" y="185.45">99</text>
<text x="427.3" y="193.25">1.00</text>
<text x="415.4" y="196.35">100</text>
<text x="420.8" y="203.85">1.00</text>
<text x="405.4" y="204.45">100</text>
<text x="405.4" y="214.15">1.00</text>
<text x="547" y="175.95">84</text>
<text x="547.8" y="184.35">1.00</text>
<text x="529.8" y="223.75">78</text>
<text x="530.4" y="231.55">0.88</text>
<text x="516.2" y="232.75">95</text>
<text x="520.6" y="240.95">0.87</text>
<text x="509.2" y="243.95">67</text>
<text x="513.6" y="252.35">0.85</text>
<text x="503" y="253.95">84</text>
<text x="507" y="261.55">0.61</text>
<text x="496.6" y="261.95">95</text>
<text x="501.2" y="269.35">0.87</text>
<text x="489.2" y="268.95">100</text>
<text x="494.8" y="276.15">1.00</text>
<text x="584.7" y="241.65">94</text>
<text x="583.7" y="250.95">0.87</text>
<text x="465.5" y="276.55">100</text>
<text x="465.8" y="284.85">1.00</text>
<text x="583" y="294.25">47</text>
<text x="582.8" y="301.55">0.98</text>
<text x="568.6" y="307.95">100</text>
<text x="569.5" y="316.05">1.00</text>
<text x="545.9" y="313.55">100</text>
<text x="546.9" y="321.45">1.00</text>
<text x="579.2" y="327.15">100</text>
<text x="579.8" y="336.85">1.00</text>
<text x="555" y="332.95">99</text>
<text x="556.2" y="342.65">1.00</text>
<text x="505.6" y="323.85">100</text>
<text x="505.6" y="332.15">1.00</text>
<text x="507.1" y="350.35">99</text>
<text x="508" y="357.65">1.00</text>
<text x="532.5" y="371.15">100</text>
<text x="527.5" y="377.25">92</text>
<text x="538.8" y="378.45">1.00</text>
<text x="531" y="383.85">1.00</text>
<text x="507.9" y="382.85">100</text>
<text x="508.4" y="390.25">1.00</text>
<text x="468.5" y="396.35">100</text>
<text x="469" y="404.15">1.00</text>
<text x="285.1" y="239.95">78</text>
<text x="283.9" y="249.55">1.00</text>
<text x="265" y="266.55">87</text>
<text x="264.5" y="276.15">1.00</text>
<text x="173.2" y="295.55">82</text>
<text x="174.8" y="305.05">1.00</text>
<text x="159.7" y="322.35">100</text>
<text x="162" y="332.15">1.00</text>
<text x="147.3" y="342.05">100</text>
<text x="147.8" y="350.25">1.00</text>
<text x="61.2" y="362.45">100</text>
<text x="61.2" y="370.15">1.00</text>
</g>
<line x1="273.9" y1="403" x2="335.3" y2="403" stroke="#222" stroke-width="1.3"/>
<text x="300.5" y="411.9" font-family="'Liberation Sans', Arial, sans-serif" font-size="5.2" fill="#333" textLength="8.6" lengthAdjust="spacingAndGlyphs">10.0</text>
</g>
<g id="panel-b">
<path d="M506.89 689.78L555.45 679.15M555.45 679.15L573.51 598.03A200.34 200.34 0 0 1 605.74 745.32ZM487.63 773.74L500.65 783.98M500.65 783.98L600.8 766.84A200.34 200.34 0 0 1 507.59 885.35ZM506.89 689.78A100.92 100.92 0 0 1 487.63 773.74M490.51 730.21L506.66 733.92M433.07 791.98L457.4 871.18M457.4 871.18L487.85 895.22A200.34 200.34 0 0 1 445.71 908.17ZM490.51 730.21A84.35 84.35 0 0 1 433.07 791.98M457.93 757.51L470.07 768.79M394.97 777.81L378.67 859.04M378.67 859.04L423.83 911.09A200.34 200.34 0 0 1 316.94 889.64ZM457.93 757.51A67.78 67.78 0 0 1 394.97 777.81M424.01 760.09L429.1 775.86M307.01 864.69L297.88 878.51M290.76 852.61L280.16 865.35M275.93 838.82L263.99 850.32M262.71 823.49L249.58 833.6M307.01 864.69A183.77 183.77 0 0 1 262.71 823.49M294.44 833.79L283.15 845.92M251.26 806.79L237.1 815.4M241.71 788.94L226.69 795.93M234.19 770.14L218.49 775.44M228.78 750.63L212.59 754.17M251.26 806.79A183.77 183.77 0 0 1 228.78 750.63M253.07 773.48L237.69 779.64M242.02 728.9L209.07 732.38M294.44 833.79A167.2 167.2 0 0 1 242.02 728.9M271.75 774.95L256.73 781.94M257.67 710.59L207.96 710.34M258.67 694.02L209.29 688.3M271.75 774.95A150.63 150.63 0 0 1 258.67 694.02M274.98 725.42L258.5 727.16M279.48 674.22L231.72 660.45M231.72 660.45L213.03 666.55A200.34 200.34 0 0 1 219.15 645.34ZM274.98 725.42A134.06 134.06 0 0 1 279.48 674.22M357.29 706.86L274.76 699.6M298.52 634.4L284.95 624.89M284.95 624.89L227.56 624.93A200.34 200.34 0 0 1 265.41 570.93ZM335.55 598.75L317.56 570.91M317.56 570.91L281.72 556.06A200.34 200.34 0 0 1 318.75 532.14ZM298.52 634.4A134.06 134.06 0 0 1 335.55 598.75M326.8 626.72L315.31 614.79M373.8 599.04L354.33 535.68M354.33 535.68L339 523.38A200.34 200.34 0 0 1 360.1 516.89ZM392.75 594.89L381.79 512.77M326.8 626.72A117.49 117.49 0 0 1 392.75 594.89M388.4 664.16L362.64 603.09M412.79 660.34L424.4 528.29M424.4 528.29L403.79 511.06A200.34 200.34 0 0 1 447.7 514.92ZM426.5 663.48L473.61 539.58M473.61 539.58L469.07 520.45A200.34 200.34 0 0 1 489.7 528.29ZM434.13 667.13L509.35 538.36M438.84 670.24L527.76 550.53M424.01 760.09A51.21 51.21 0 1 1 438.84 670.24M390.76 681.48L382.37 667.19M431.89 685.98L544.73 564.64M390.76 681.48A34.64 34.64 0 0 1 431.89 685.98M410.27 693.39L412.07 676.92M421.99 699.55L560.04 580.54M410.27 693.39A18.07 18.07 0 0 1 421.99 699.55M408.3 711.35L416.71 695.36" fill="none" stroke="#111" stroke-width="1.2" stroke-linejoin="miter" stroke-linecap="butt"/>
<g font-family="'Liberation Sans', Arial, sans-serif" font-style="italic" font-size="10.4" fill="#111" stroke="#111" stroke-width="0.22">
<text transform="translate(581.18 592.77) rotate(-34.45) scale(0.86 1)" text-anchor="start" y="3.6">2nNCRC-F1_1a</text>
<text transform="translate(593.18 612.51) rotate(-28.13) scale(0.86 1)" text-anchor="start" y="3.6">2nNCRC-F2_1a</text>
<text transform="translate(602.93 633.44) rotate(-21.82) scale(0.86 1)" text-anchor="start" y="3.6">2nNCRC-F3_1a</text>
<text transform="translate(610.32 655.33) rotate(-15.5) scale(0.86 1)" text-anchor="start" y="3.6">2nNCRC-F2_2b</text>
<text transform="translate(615.25 677.89) rotate(-9.18) scale(0.86 1)" text-anchor="start" y="3.6">C. auratus4</text>
<text transform="translate(617.68 700.86) rotate(-2.87) scale(0.86 1)" text-anchor="start" y="3.6">2nNCRC-F1_2b</text>
<text transform="translate(617.56 723.96) rotate(3.45) scale(0.86 1)" text-anchor="start" y="3.6">2nNCRC-F2_2a</text>
<text transform="translate(614.9 746.9) rotate(9.76) scale(0.86 1)" text-anchor="start" y="3.6">2nNCRC-F3_2a</text>
<text transform="translate(609.74 769.41) rotate(16.08) scale(0.86 1)" text-anchor="start" y="3.6">2nNCRC-F1_1b</text>
<text transform="translate(602.13 791.22) rotate(22.4) scale(0.86 1)" text-anchor="start" y="3.6">C. auratus3</text>
<text transform="translate(592.17 812.06) rotate(28.71) scale(0.86 1)" text-anchor="start" y="3.6">C. auratus2</text>
<text transform="translate(579.97 831.68) rotate(35.03) scale(0.86 1)" text-anchor="start" y="3.6">2nNCRC-F1_2a</text>
<text transform="translate(565.69 849.83) rotate(41.34) scale(0.86 1)" text-anchor="start" y="3.6">2nNCRC-F2_1b</text>
<text transform="translate(549.5 866.3) rotate(47.66) scale(0.86 1)" text-anchor="start" y="3.6">2nNCRC-F3_1b</text>
<text transform="translate(531.6 880.9) rotate(53.97) scale(0.86 1)" text-anchor="start" y="3.6">C. auratus1</text>
<text transform="translate(512.2 893.43) rotate(60.29) scale(0.86 1)" text-anchor="start" y="3.6">2nNCRC-F3_2b</text>
<text transform="translate(491.54 903.76) rotate(66.61) scale(0.86 1)" text-anchor="start" y="3.6">P. mera3</text>
<text transform="translate(469.87 911.75) rotate(72.92) scale(0.86 1)" text-anchor="start" y="3.6">P. mera5</text>
<text transform="translate(447.45 917.3) rotate(79.24) scale(0.86 1)" text-anchor="start" y="3.6">P. mera4</text>
<text transform="translate(424.55 920.36) rotate(85.55) scale(0.86 1)" text-anchor="start" y="3.6">2nCOC2</text>
<text transform="translate(401.46 920.88) rotate(-88.13) scale(0.86 1)" text-anchor="end" y="3.6">C. carpio4</text>
<text transform="translate(378.45 918.85) rotate(-81.82) scale(0.86 1)" text-anchor="end" y="3.6">C. carpio3</text>
<text transform="translate(355.81 914.31) rotate(-75.5) scale(0.86 1)" text-anchor="end" y="3.6">C. carpio1</text>
<text transform="translate(333.8 907.31) rotate(-69.18) scale(0.86 1)" text-anchor="end" y="3.6">C. carpio2</text>
<text transform="translate(312.7 897.92) rotate(-62.87) scale(0.86 1)" text-anchor="end" y="3.6">2nCOC1</text>
<text transform="translate(292.75 886.27) rotate(-56.55) scale(0.86 1)" text-anchor="end" y="3.6">M. amblycephala1</text>
<text transform="translate(274.21 872.5) rotate(-50.24) scale(0.86 1)" text-anchor="end" y="3.6">M. amblycephala2</text>
<text transform="translate(257.3 856.77) rotate(-43.92) scale(0.86 1)" text-anchor="end" y="3.6">2nBSB</text>
<text transform="translate(242.21 839.27) rotate(-37.6) scale(0.86 1)" text-anchor="end" y="3.6">C. alburnus</text>
<text transform="translate(229.15 820.23) rotate(-31.29) scale(0.86 1)" text-anchor="end" y="3.6">C. idella</text>
<text transform="translate(218.26 799.86) rotate(-24.97) scale(0.86 1)" text-anchor="end" y="3.6">M. piceus</text>
<text transform="translate(209.68 778.42) rotate(-18.66) scale(0.86 1)" text-anchor="end" y="3.6">H. molitrix</text>
<text transform="translate(203.5 756.16) rotate(-12.34) scale(0.86 1)" text-anchor="end" y="3.6">S. curriculus</text>
<text transform="translate(199.82 733.36) rotate(-6.03) scale(0.86 1)" text-anchor="end" y="3.6">X. argentea</text>
<text transform="translate(198.66 710.29) rotate(0.29) scale(0.86 1)" text-anchor="end" y="3.6">O. bidens</text>
<text transform="translate(200.05 687.23) rotate(6.61) scale(0.86 1)" text-anchor="end" y="3.6">E. bambusa</text>
<text transform="translate(203.97 664.47) rotate(12.92) scale(0.86 1)" text-anchor="end" y="3.6">D. rerio1</text>
<text transform="translate(210.37 642.28) rotate(19.24) scale(0.86 1)" text-anchor="end" y="3.6">D. rerio2</text>
<text transform="translate(219.17 620.92) rotate(25.55) scale(0.86 1)" text-anchor="end" y="3.6">P. dipogon1</text>
<text transform="translate(230.26 600.66) rotate(31.87) scale(0.86 1)" text-anchor="end" y="3.6">P. dipogon2</text>
<text transform="translate(243.52 581.75) rotate(38.18) scale(0.86 1)" text-anchor="end" y="3.6">P. dipogon3</text>
<text transform="translate(258.78 564.41) rotate(44.5) scale(0.86 1)" text-anchor="end" y="3.6">P. dipogon4</text>
<text transform="translate(275.85 548.85) rotate(50.82) scale(0.86 1)" text-anchor="end" y="3.6">O. stewartii1</text>
<text transform="translate(294.53 535.27) rotate(57.13) scale(0.86 1)" text-anchor="end" y="3.6">O. stewartii2</text>
<text transform="translate(314.59 523.82) rotate(63.45) scale(0.86 1)" text-anchor="end" y="3.6">O. stewartii3</text>
<text transform="translate(335.79 514.65) rotate(69.76) scale(0.86 1)" text-anchor="end" y="3.6">C. cuvieri1</text>
<text transform="translate(357.87 507.87) rotate(76.08) scale(0.86 1)" text-anchor="end" y="3.6">C. cuvieri2</text>
<text transform="translate(380.56 503.55) rotate(82.4) scale(0.86 1)" text-anchor="end" y="3.6">S. oconnori</text>
<text transform="translate(403.58 501.76) rotate(88.71) scale(0.86 1)" text-anchor="end" y="3.6">P. ticto2</text>
<text transform="translate(426.67 502.52) rotate(-84.97) scale(0.86 1)" text-anchor="start" y="3.6">P. ticto3</text>
<text transform="translate(449.53 505.8) rotate(-78.66) scale(0.86 1)" text-anchor="start" y="3.6">P. ticto1</text>
<text transform="translate(471.89 511.59) rotate(-72.34) scale(0.86 1)" text-anchor="start" y="3.6">P. mera1</text>
<text transform="translate(493.48 519.8) rotate(-66.03) scale(0.86 1)" text-anchor="start" y="3.6">P. mera2</text>
<text transform="translate(514.04 530.33) rotate(-59.71) scale(0.86 1)" text-anchor="start" y="3.6">P. huangchuchieni</text>
<text transform="translate(533.31 543.06) rotate(-53.39) scale(0.86 1)" text-anchor="start" y="3.6">T. sinensis</text>
<text transform="translate(551.06 557.83) rotate(-47.08) scale(0.86 1)" text-anchor="start" y="3.6">C. macropomum</text>
<text transform="translate(567.09 574.47) rotate(-40.76) scale(0.86 1)" text-anchor="start" y="3.6">E. lucius</text>
</g>
<g fill="#111" text-anchor="middle">
<g transform="translate(531.17 684.47) rotate(-12.34)"><text y="-4.3" font-family="'Liberation Sans', Arial, sans-serif" font-size="8" letter-spacing="-0.3">0.99</text><text x="1" y="9" font-family="'DejaVu Sans', 'Liberation Sans', sans-serif" font-size="8.5">75</text></g>
<g transform="translate(494.14 778.86) rotate(38.18)"><text y="-4.3" font-family="'Liberation Sans', Arial, sans-serif" font-size="8" letter-spacing="-0.3">1</text><text x="1" y="9" font-family="'DejaVu Sans', 'Liberation Sans', sans-serif" font-size="8.5">97</text></g>
<g transform="translate(498.59 732.06) rotate(12.92)"><text y="-4.3" font-family="'Liberation Sans', Arial, sans-serif" font-size="8" letter-spacing="-0.3">0.98</text><text x="1" y="9" font-family="'DejaVu Sans', 'Liberation Sans', sans-serif" font-size="8.5">90</text></g>
<g transform="translate(445.24 831.58) rotate(72.92)"><text y="-4.3" font-family="'Liberation Sans', Arial, sans-serif" font-size="8" letter-spacing="-0.3">0.99</text><text x="1" y="9" font-family="'DejaVu Sans', 'Liberation Sans', sans-serif" font-size="8.5">87</text></g>
<g transform="translate(464 763.15) rotate(42.92)"><text y="-4.3" font-family="'Liberation Sans', Arial, sans-serif" font-size="8" letter-spacing="-0.3">0.88</text><text x="1" y="9" font-family="'DejaVu Sans', 'Liberation Sans', sans-serif" font-size="8.5">86</text></g>
<g transform="translate(386.82 818.42) rotate(-78.66)"><text y="-4.3" font-family="'Liberation Sans', Arial, sans-serif" font-size="8" letter-spacing="-0.3">0.62</text><text x="1" y="9" font-family="'DejaVu Sans', 'Liberation Sans', sans-serif" font-size="8.5">80</text></g>
<g transform="translate(426.55 767.98) rotate(72.13)"><text y="-4.3" font-family="'Liberation Sans', Arial, sans-serif" font-size="8" letter-spacing="-0.3">0.59</text><text x="1" y="9" font-family="'DejaVu Sans', 'Liberation Sans', sans-serif" font-size="8.5">41</text></g>
<g transform="translate(288.8 839.86) rotate(-47.08)"><text y="-4.3" font-family="'Liberation Sans', Arial, sans-serif" font-size="8" letter-spacing="-0.3">0.99</text><text x="1" y="9" font-family="'DejaVu Sans', 'Liberation Sans', sans-serif" font-size="8.5">90</text></g>
<g transform="translate(245.38 776.56) rotate(-21.82)"><text y="-4.3" font-family="'Liberation Sans', Arial, sans-serif" font-size="8" letter-spacing="-0.3">0.97</text><text x="1" y="9" font-family="'DejaVu Sans', 'Liberation Sans', sans-serif" font-size="8.5">55</text></g>
<g transform="translate(264.24 778.44) rotate(-24.97)"><text y="-4.3" font-family="'Liberation Sans', Arial, sans-serif" font-size="8" letter-spacing="-0.3">0.95</text><text x="1" y="9" font-family="'DejaVu Sans', 'Liberation Sans', sans-serif" font-size="8.5">56</text></g>
<g transform="translate(266.74 726.29) rotate(-6.03)"><text y="-4.3" font-family="'Liberation Sans', Arial, sans-serif" font-size="8" letter-spacing="-0.3">1</text><text x="1" y="9" font-family="'DejaVu Sans', 'Liberation Sans', sans-serif" font-size="8.5">72</text></g>
<g transform="translate(255.6 667.34) rotate(16.08)"><text y="-4.3" font-family="'Liberation Sans', Arial, sans-serif" font-size="8" letter-spacing="-0.3">1</text><text x="1" y="9" font-family="'DejaVu Sans', 'Liberation Sans', sans-serif" font-size="8.5">100</text></g>
<g transform="translate(316.02 703.23) rotate(5.03)"><text y="-4.3" font-family="'Liberation Sans', Arial, sans-serif" font-size="8" letter-spacing="-0.3">0.66</text><text x="1" y="9" font-family="'DejaVu Sans', 'Liberation Sans', sans-serif" font-size="8.5">58</text></g>
<g transform="translate(291.74 629.65) rotate(35.03)"><text y="-4.3" font-family="'Liberation Sans', Arial, sans-serif" font-size="8" letter-spacing="-0.3">0.99</text><text x="1" y="9" font-family="'DejaVu Sans', 'Liberation Sans', sans-serif" font-size="8.5">96</text></g>
<g transform="translate(326.55 584.83) rotate(57.13)"><text y="-4.3" font-family="'Liberation Sans', Arial, sans-serif" font-size="8" letter-spacing="-0.3">0.99</text><text x="1" y="9" font-family="'DejaVu Sans', 'Liberation Sans', sans-serif" font-size="8.5">63</text></g>
<g transform="translate(321.05 620.75) rotate(46.08)"><text y="-4.3" font-family="'Liberation Sans', Arial, sans-serif" font-size="8" letter-spacing="-0.3">0.96</text><text x="1" y="9" font-family="'DejaVu Sans', 'Liberation Sans', sans-serif" font-size="8.5">98</text></g>
<g transform="translate(364.06 567.36) rotate(72.92)"><text y="-4.3" font-family="'Liberation Sans', Arial, sans-serif" font-size="8" letter-spacing="-0.3">0.99</text><text x="1" y="9" font-family="'DejaVu Sans', 'Liberation Sans', sans-serif" font-size="8.5">94</text></g>
<g transform="translate(387.27 553.83) rotate(82.4)"><text y="-4.3" font-family="'Liberation Sans', Arial, sans-serif" font-size="8" letter-spacing="-0.3">1</text></g>
<g transform="translate(375.52 633.63) rotate(67.13)"><text y="-4.3" font-family="'Liberation Sans', Arial, sans-serif" font-size="8" letter-spacing="-0.3">0.53</text><text x="1" y="9" font-family="'DejaVu Sans', 'Liberation Sans', sans-serif" font-size="8.5">49</text></g>
<g transform="translate(418.59 594.31) rotate(-84.97)"><text y="-4.3" font-family="'Liberation Sans', Arial, sans-serif" font-size="8" letter-spacing="-0.3">0.99</text><text x="1" y="9" font-family="'DejaVu Sans', 'Liberation Sans', sans-serif" font-size="8.5">91</text></g>
<g transform="translate(450.05 601.53) rotate(-69.18)"><text y="-4.3" font-family="'Liberation Sans', Arial, sans-serif" font-size="8" letter-spacing="-0.3">1</text><text x="1" y="9" font-family="'DejaVu Sans', 'Liberation Sans', sans-serif" font-size="8.5">97</text></g>
<g transform="translate(386.56 674.34) rotate(59.58)"><text y="-4.3" font-family="'Liberation Sans', Arial, sans-serif" font-size="8" letter-spacing="-0.3">1</text><text x="1" y="9" font-family="'DejaVu Sans', 'Liberation Sans', sans-serif" font-size="8.5">100</text></g>
<g transform="translate(411.17 685.15) rotate(-83.75)"><text y="-4.3" font-family="'Liberation Sans', Arial, sans-serif" font-size="8" letter-spacing="-0.3">1</text><text x="1" y="9" font-family="'DejaVu Sans', 'Liberation Sans', sans-serif" font-size="8.5">100</text></g>
</g>
<line x1="393.6" y1="973.4" x2="426.9" y2="973.4" stroke="#111" stroke-width="1.2"/>
<text x="409.4" y="989" font-family="'Liberation Sans', Arial, sans-serif" font-size="10.2" fill="#111" text-anchor="middle">2.0</text>
</g>
</svg>
</body>
</html>
